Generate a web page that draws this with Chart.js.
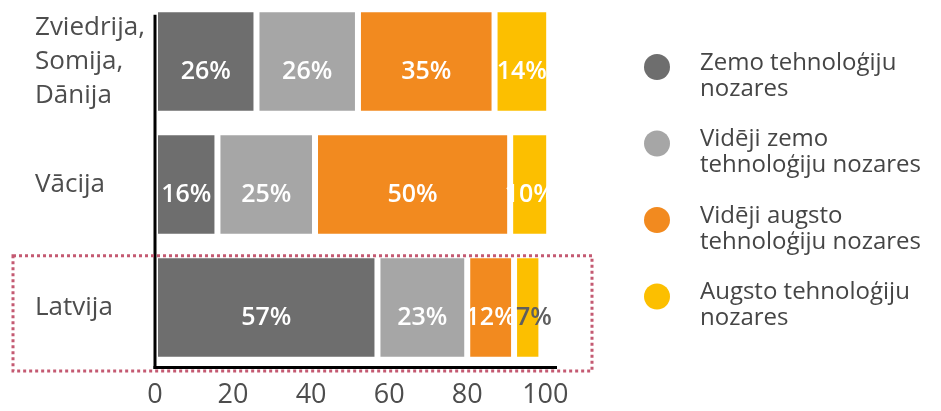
<!DOCTYPE html>
<html>
<head>
<meta charset="utf-8">
<script src="https://cdn.jsdelivr.net/npm/chart.js@4.4.1/dist/chart.umd.min.js"></script>
<style>
  html, body { margin: 0; background: #fff; }
  #wrap { width: 941px; height: 411px; }
</style>
</head>
<body>
<div id="wrap"><canvas id="techChart"></canvas></div>
<script>
// data
const countries = [['Zviedrija,', 'Somija,', 'Dānija'], 'Vācija', 'Latvija'];
const lowTech = [26, 16, 57];
const midLowTech = [26, 25, 23];
const midHighTech = [35, 50, 12];
const highTech = [14, 10, 7];
const seriesNames = [
  ['Zemo tehnoloģiju', 'nozares'],
  ['Vidēji zemo', 'tehnoloģiju nozares'],
  ['Vidēji augsto', 'tehnoloģiju nozares'],
  ['Augsto tehnoloģiju', 'nozares']
];
const seriesColors = ['#6e6e6e', '#a6a6a6', '#f28a1f', '#fcbf00'];
const xTicks = [0, 20, 40, 60, 80, 100];
const highlighted = 'Latvija';

Chart.defaults.font.family = '"Open Sans", sans-serif';

// black axis lines, the vertical one starts at the first bar
const axisLines = {
  id: 'axisLines',
  afterDatasetsDraw(chart) {
    const { left, right, bottom } = chart.chartArea;
    const y = chart.scales.y;
    const band = y.getPixelForValue(1) - y.getPixelForValue(0);
    const top = y.getPixelForValue(0) - band * 0.38;
    const ctx = chart.ctx;
    ctx.save();
    ctx.fillStyle = '#000';
    ctx.fillRect(left - 1.5, top, 3, bottom - top);
    ctx.fillRect(left - 1.5, bottom - 3, right - left + 1.5, 3);
    ctx.restore();
  }
};

// percentage labels inside the segments
const segmentLabels = {
  id: 'segmentLabels',
  afterDatasetsDraw(chart) {
    const ctx = chart.ctx;
    ctx.save();
    ctx.font = '600 25px "Open Sans"';
    ctx.textBaseline = 'middle';
    chart.data.datasets.forEach((ds, i) => {
      chart.getDatasetMeta(i).data.forEach((bar, j) => {
        const v = ds.data[j];
        if (v < 10) {
          // tiny segment: dark text starting at the bar, spilling right
          ctx.fillStyle = '#5e5e5e';
          ctx.textAlign = 'left';
          ctx.fillText(v + '%', Math.min(bar.x, bar.base) + 2, bar.y + 10);
        } else {
          ctx.fillStyle = '#fff';
          ctx.textAlign = 'center';
          ctx.fillText(v + '%', (bar.x + bar.base) / 2, bar.y + 10);
        }
      });
    });
    ctx.restore();
  }
};

// dotted frame round the Latvija row
const highlightBox = {
  id: 'highlightBox',
  afterDraw(chart) {
    const y = chart.scales.y;
    const area = chart.chartArea;
    const idx = chart.data.labels.indexOf(highlighted);
    const band = y.getPixelForValue(1) - y.getPixelForValue(0);
    const top = y.getPixelForValue(idx) - band * 0.42;
    const bottom = area.bottom + 2;
    const ctx = chart.ctx;
    ctx.save();
    ctx.strokeStyle = '#c45a72';
    ctx.lineWidth = 3;
    ctx.setLineDash([3, 3]);
    ctx.strokeRect(area.left - 142, top, area.right - area.left + 177, bottom - top);
    ctx.restore();
  }
};

// legend on the right, two-line entries
const sideLegend = {
  id: 'sideLegend',
  afterDraw(chart) {
    const ctx = chart.ctx;
    const cx = chart.chartArea.right + 100;
    const tx = chart.chartArea.right + 143;
    ctx.save();
    ctx.font = '24px "Open Sans"';
    ctx.textBaseline = 'middle';
    ctx.textAlign = 'left';
    chart.data.datasets.forEach((ds, i) => {
      const y0 = 63 + i * 76.5;
      ctx.fillStyle = ds.backgroundColor;
      ctx.beginPath();
      ctx.arc(cx, y0 + 4, 13, 0, Math.PI * 2);
      ctx.fill();
      ctx.fillStyle = '#454545';
      seriesNames[i].forEach((line, k) => ctx.fillText(line, tx, y0 + k * 26));
    });
    ctx.restore();
  }
};

const ctx = document.getElementById('techChart').getContext('2d');

const techChart = new Chart(ctx, {
  type: 'bar',
  data: {
    labels: countries.map(c => Array.isArray(c) ? c.join(' ') : c),
    datasets: [lowTech, midLowTech, midHighTech, highTech].map((vals, i) => ({
      label: seriesNames[i].join(' '),
      data: vals,
      backgroundColor: seriesColors[i],
      borderColor: '#fff',
      borderWidth: 3,
      borderSkipped: false,
      categoryPercentage: 1,
      barPercentage: 0.85
    }))
  },
  options: {
    indexAxis: 'y',
    responsive: true,
    maintainAspectRatio: false,
    animation: false,
    layout: {
      padding: { left: 35, right: 384, top: 0, bottom: 0 }
    },
    scales: {
      x: {
        stacked: true,
        min: 0,
        max: 103,
        afterBuildTicks: s => { s.ticks = xTicks.map(v => ({ value: v })); },
        afterFit: s => { s.height = 42; },
        grid: { display: false, drawTicks: false },
        border: { display: false },
        ticks: { color: '#4d4d4d', font: { size: 27 }, padding: 10 }
      },
      y: {
        stacked: true,
        afterFit: s => {
          s.width = 120;
          s.paddingTop = 0;
          s.paddingBottom = 0;
        },
        grid: { display: false, drawTicks: false },
        border: { display: false },
        ticks: {
          color: '#4d4d4d',
          font: { size: 26, lineHeight: 1.3 },
          crossAlign: 'far',
          padding: 10,
          callback: (v, i) => countries[i]
        }
      }
    },
    plugins: {
      legend: { display: false },
      tooltip: { enabled: false }
    }
  },
  plugins: [axisLines, segmentLabels, highlightBox, sideLegend]
});
</script>
</body>
</html>
